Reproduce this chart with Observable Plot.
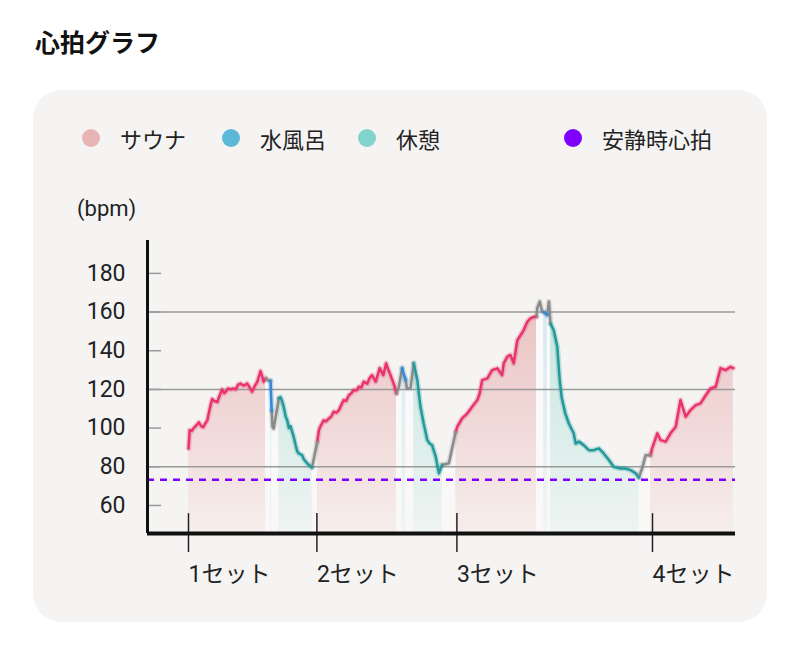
<!DOCTYPE html>
<html><head><meta charset="utf-8">
<script src="https://cdn.jsdelivr.net/npm/d3@7"></script>
<script src="https://cdn.jsdelivr.net/npm/@observablehq/plot@0.6"></script>
<style>
body{margin:0;background:#fff;font-family:"Noto Sans CJK JP","Noto Sans",sans-serif;}
#wrap{position:relative;width:800px;height:652px;overflow:hidden;}
#title{position:absolute;left:35px;top:23px;font-size:25px;font-weight:700;color:#111;}
#card{position:absolute;left:33px;top:90px;width:734px;height:532px;border-radius:28px;background:#f5f4f3;}
.lg{position:absolute;top:124px;height:28px;display:flex;align-items:center;font-size:22px;color:#222;}
.dot{width:18px;height:18px;border-radius:50%;margin-right:20px;}
#unit{position:absolute;left:77px;top:196px;font-size:22px;color:#222;font-family:Roboto,"Noto Sans CJK JP",sans-serif;}
#chart{position:absolute;left:0;top:180px;}
</style></head>
<body>
<div id="wrap">
  <div id="title">心拍グラフ</div>
  <div id="card"></div>
  <div id="legend"></div>
  <div id="unit">(bpm)</div>
  <div id="chart"></div>
</div>
<script>
// ---- data ----
const setStarts = [0, 32.1, 67.1, 116];
const setLabels = ["1セット", "2セット", "3セット", "4セット"];
const yTicks = [60, 80, 100, 120, 140, 160, 180];
const gridValues = [80, 120, 160];
const restingHR = 73.3;
const legendLabels = ["サウナ", "水風呂", "休憩", "安静時心拍"];

const sauna1 = [[0,89.5],[0.3,99],[0.8,98.5],[1.3,100],[2,101.5],[2.6,103],[3.2,101],[3.7,100.5],[4.2,102.5],[4.7,104],[5.3,110],[5.9,115],[6.5,114],[7.2,113.5],[7.8,117],[8.4,120],[8.9,118],[9.3,118.8],[9.9,120.5],[10.5,120],[11.2,120.5],[11.8,120],[12.4,122.5],[13,123],[13.8,122],[14.7,123],[15.3,121],[15.9,118.8],[16.6,122],[17.2,124],[18,129.5],[18.4,127],[18.8,124],[19.3,125.7]];
const trans1a = [[19.3,125.7],[20,124.5],[20.5,124.5]];
const cold1 = [[20.5,124.5],[20.8,109]];
const trans1b = [[20.8,109],[21,100.7],[21.3,99.8],[22.6,115.4]];
const rest1 = [[22.6,115.4],[23,116],[23.4,114],[23.8,111],[24.3,106],[24.7,104],[25.1,100],[25.5,101],[26.3,95.5],[26.8,91],[27.2,88],[27.5,87],[28.4,86],[28.8,84],[29.7,81.7],[30.3,80.5],[30.9,79.7]];
const trans1c = [[30.9,79.7],[32.2,93]];
const sauna2 = [[32.2,93],[32.6,99],[33,101],[33.8,104],[34.4,103.5],[35.1,105],[35.7,106],[36.3,108.5],[37,108],[37.6,109.3],[38.2,112],[38.8,114.5],[39.4,114],[40.1,117],[40.7,118],[41.3,119.7],[42,119.5],[42.6,121.4],[43.2,121],[43.8,124],[44.7,123],[45.3,126],[45.9,127.4],[46.8,124],[47.8,131],[48.7,127.4],[49.4,133.5],[50,130],[50.5,127.4],[51.3,123],[52,118]];
const trans2a = [[52,118],[52.6,121.4],[53.4,131]];
const cold2 = [[53.4,131],[53.8,128],[54.3,124.8]];
const trans2b = [[54.3,124.8],[54.6,120.5],[55.5,120.5],[56.3,133.5]];
const rest2 = [[56.3,133.5],[57.2,124.8],[58,111],[58.8,102.4],[59.7,93.8],[60.3,92],[60.9,91.2],[61.8,85.2],[62.6,76.6],[63.4,80.9]];
const trans2c = [[63.4,80.9],[65.1,81.8],[66.8,98]];
const sauna3 = [[66.8,98],[67.2,100.7],[68.4,105],[69.7,107.6],[70.9,111],[72.2,114.5],[72.8,118],[73.4,124.8],[74.7,125.7],[75.9,130],[77.2,130.9],[78.4,127.4],[78.8,133.5],[79.7,137],[80.5,137.8],[81.3,133.5],[82.2,145.5],[83,148],[83.8,150.7],[84.7,155],[85.5,156.8],[86.5,157.6],[87,157.6]];
const trans3a = [[87,157.6],[87.2,162],[87.8,165.4],[88.4,160.2],[88.8,160]];
const cold3 = [[88.8,160],[89.7,158.5]];
const trans3b = [[89.7,158.5],[90.1,165.4],[90.5,154]];
const rest3 = [[90.5,154],[91.3,150.7],[92.2,142],[92.8,125],[93.3,115.8],[94.2,107.6],[95.1,102.4],[96.3,97.3],[96.8,92],[97.6,93],[98.8,91.2],[100.1,88.6],[101.3,88.6],[102.6,89.5],[103.8,86.9],[105.1,83.5],[106.3,80],[108,79.1],[109.3,79.1],[110.5,78.3],[111.8,76.6],[112.6,74.5]];
const trans3c = [[112.6,74.5],[113.4,79.1],[114.3,86],[115.5,86]];
const sauna4 = [[115.5,86],[115.9,89.5],[117.2,97.3],[118,93.8],[119.3,93],[120.5,97.3],[121.8,100.7],[123,114.5],[124.3,105.9],[125.5,109.3],[126.8,111.9],[128,112.8],[129.3,117],[130.5,120.5],[131.8,121.4],[133,131],[134.3,130],[135.5,131.7],[136.2,131]];

const segments = [
  ["sauna", sauna1], ["trans", trans1a], ["cold", cold1], ["trans", trans1b], ["rest", rest1], ["trans", trans1c],
  ["sauna", sauna2], ["trans", trans2a], ["cold", cold2], ["trans", trans2b], ["rest", rest2], ["trans", trans2c],
  ["sauna", sauna3], ["trans", trans3a], ["cold", cold3], ["trans", trans3b], ["rest", rest3], ["trans", trans3c],
  ["sauna", sauna4]
];

// ---- styles ----
const lineColor = {sauna: "#e8336b", cold: "#2f88d8", rest: "#22999a", trans: "#8a8a8a"};
const fillId = {sauna: "g-sauna", cold: "g-cold", rest: "g-rest", trans: "g-trans"};
const gradStops = {
  "g-sauna": ["#e9c0c0", "#f6eeec"],
  "g-rest": ["#c2e5de", "#eef4f2"],
  "g-cold": ["#d3e8f1", "#f0f5f6"],
  "g-trans": ["#fcfbfb", "#f9f8f7"]
};
const legendColors = ["#e8b4b4", "#5bb8d6", "#80d4cc", "#8000ff"];
const legendLeft = [82, 222, 358, 564];

const rows = [];
segments.forEach(([phase, pts], i) => pts.forEach(([t, bpm]) => rows.push({t, bpm, phase, seg: i})));

const tMin = -10.25, tMax = 136.75, yMin = 45.5, yMax = 197;

// legend
const lg = document.getElementById("legend");
legendLabels.forEach((l, i) => {
  const d = document.createElement("div");
  d.className = "lg"; d.style.left = legendLeft[i] + "px";
  d.innerHTML = `<span class="dot" style="background:${legendColors[i]}"></span><span>${l}</span>`;
  lg.appendChild(d);
});

const defs = () => {
  const g = d3.create("svg:g");
  const df = g.append("defs");
  for (const [id, [c0, c1]] of Object.entries(gradStops)) {
    const lgd = df.append("linearGradient").attr("id", id)
      .attr("gradientUnits", "userSpaceOnUse").attr("x1", 0).attr("x2", 0).attr("y1", 110).attr("y2", 353);
    lgd.append("stop").attr("offset", 0).attr("stop-color", c0);
    lgd.append("stop").attr("offset", 1).attr("stop-color", c1);
  }
  return g.node();
};

const phases = ["sauna", "trans", "cold", "rest"];
const labelOf = d => setLabels[setStarts.indexOf(d)];

const chart = Plot.plot({
  width: 800, height: 413,
  marginLeft: 147, marginRight: 65, marginTop: 60, marginBottom: 60,
  style: {background: "transparent", fontFamily: 'Roboto,"Noto Sans CJK JP",sans-serif', fontSize: "23px", color: "#222", overflow: "visible"},
  x: {domain: [tMin, tMax]},
  y: {domain: [yMin, yMax]},
  marks: [
    defs,
    ...phases.map(p => Plot.areaY(rows.filter(r => r.phase === p), {x: "t", y1: yMin, y2: "bpm", z: "seg", fill: `url(#${fillId[p]})`})),
    Plot.ruleY(gridValues, {stroke: "#9a9a9a", strokeWidth: 1.5}),
    Plot.ruleY(yTicks, {x1: tMin, x2: tMin + 3.5, stroke: "#9a9a9a", strokeWidth: 1.5}),
    Plot.ruleY([restingHR], {stroke: "#8000ff", strokeWidth: 2.5, strokeDasharray: "7,6"}),
    ...phases.map(p => Plot.line(rows.filter(r => r.phase === p), {x: "t", y: "bpm", z: "seg", stroke: lineColor[p], strokeWidth: 5.5, strokeOpacity: 0.25})),
    ...phases.map(p => Plot.line(rows.filter(r => r.phase === p), {x: "t", y: "bpm", z: "seg", stroke: lineColor[p], strokeWidth: 2.5})),
    Plot.ruleX(setStarts, {y1: yMin, y2: yMin + 10.3, stroke: "#222", strokeWidth: 1.5}),
    Plot.axisY({ticks: yTicks, tickSize: 0, tickPadding: 22, fontSize: 23, label: null, color: "#222"}),
    Plot.axisX({ticks: setStarts, tickFormat: labelOf, tickSize: 19, tickPadding: 13, textAnchor: "start", fontSize: 23, stroke: "#222", strokeWidth: 1.5, label: null}),
    Plot.ruleX([tMin], {stroke: "#111", strokeWidth: 3}),
    Plot.ruleY([yMin], {stroke: "#111", strokeWidth: 4})
  ]
});
document.getElementById("chart").appendChild(chart);
</script>
</body></html>
